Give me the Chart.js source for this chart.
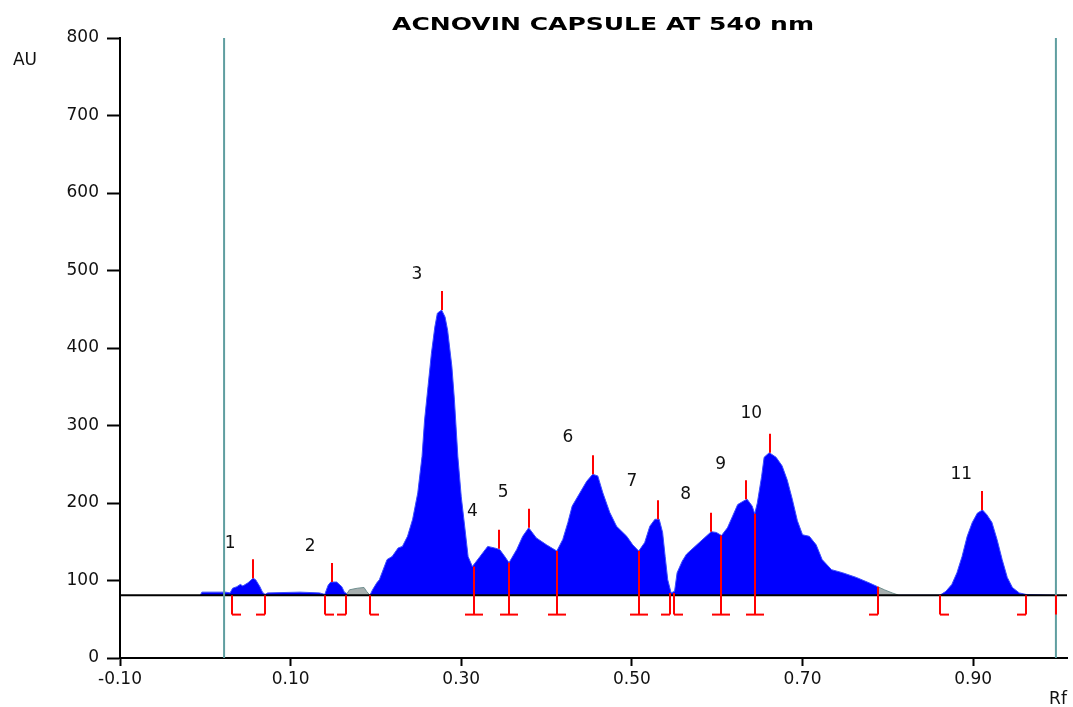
<!DOCTYPE html>
<html>
<head>
<meta charset="utf-8">
<script src="https://cdn.jsdelivr.net/npm/chart.js@4"></script>
<style>
  html, body { margin: 0; padding: 0; background: #fff; }
  canvas { display: block; }
</style>
</head>
<body>
<canvas id="chart" width="1073" height="707"></canvas>
<script>
// densitogram trace (Rf vs AU)
var rf = [-0.006, -0.004, 0.024, 0.029, 0.032, 0.037, 0.041, 0.044, 0.050, 0.056, 0.059, 0.064, 0.067, 0.070, 0.073,
  0.111, 0.134, 0.140, 0.144, 0.147, 0.154, 0.160, 0.163, 0.166, 0.169, 0.178, 0.186, 0.189, 0.193, 0.196,
  0.201, 0.204, 0.213, 0.219, 0.226, 0.231, 0.237, 0.243, 0.249, 0.254, 0.257, 0.261, 0.265, 0.269, 0.272,
  0.277, 0.281, 0.284, 0.289, 0.292, 0.296, 0.300, 0.304, 0.308, 0.313, 0.322, 0.331, 0.339, 0.345, 0.351,
  0.356, 0.365, 0.372, 0.379, 0.388, 0.400, 0.412, 0.419, 0.425, 0.430, 0.439, 0.447, 0.454, 0.460, 0.466,
  0.474, 0.482, 0.494, 0.501, 0.508, 0.515, 0.521, 0.527, 0.532, 0.536, 0.539, 0.542, 0.546, 0.550, 0.553,
  0.559, 0.564, 0.579, 0.593, 0.599, 0.605, 0.612, 0.618, 0.624, 0.630, 0.635, 0.641, 0.644, 0.647, 0.652,
  0.655, 0.661, 0.669, 0.676, 0.682, 0.688, 0.694, 0.700, 0.708, 0.716, 0.723, 0.734, 0.747, 0.763, 0.778,
  0.788, 0.796, 0.805, 0.813, 0.861, 0.868, 0.875, 0.881, 0.887, 0.893, 0.899, 0.905, 0.911, 0.916, 0.922,
  0.928, 0.934, 0.940, 0.946, 0.954, 0.962, 0.997];
var au = [81, 85, 85, 84, 90, 92, 95, 93, 97, 103, 101, 92, 85, 82, 84,
  85, 84, 82, 94, 98, 98, 92, 85, 83, 88, 90, 91, 86, 81, 88,
  97, 101, 127, 131, 142, 144, 157, 179, 213, 260, 307, 350, 393, 427, 445,
  449, 440, 423, 376, 333, 260, 208, 170, 131, 118, 131, 144, 142, 140, 131,
  123, 140, 157, 168, 155, 146, 138, 153, 175, 196, 213, 228, 237, 235, 213,
  188, 170, 157, 146, 138, 149, 170, 179, 179, 162, 131, 101, 84, 86, 110,
  125, 134, 149, 163, 162, 158, 168, 183, 198, 202, 205, 196, 186, 200, 234,
  259, 265, 259, 248, 230, 205, 177, 159, 157, 146, 127, 114, 110, 104, 97,
  92, 88, 84, 81, 81, 86, 95, 110, 131, 157, 175, 187, 191, 185, 175,
  153, 127, 104, 91, 84, 82, 81];
var baselineAU = 81;
var footAU = 56;
var xTicks = [-0.10, 0.10, 0.30, 0.50, 0.70, 0.90];
var trackRf = [0.022, 0.997];
var greyRanges = [[0.165, 0.193], [0.788, 0.813]];

// peaks
var peakNames = ['1', '2', '3', '4', '5', '6', '7', '8', '9', '10', '11'];
var peakRf = [0.056, 0.148, 0.278, 0.344, 0.379, 0.454, 0.531, 0.593, 0.634, 0.662, 0.910];
var peakAU = [103, 98, 449, 141, 168, 237, 179, 163, 205, 265, 191];
var labelRf = [0.029, 0.123, 0.248, 0.313, 0.349, 0.425, 0.500, 0.563, 0.604, 0.640, 0.886];
var labelAU = [147, 144, 495, 189, 214, 285, 227, 211, 250, 315, 237];

// integration boundaries: L = start, R = end, T = between peaks, I = plain
var boundRf = [0.031, 0.070, 0.140, 0.165, 0.193, 0.315, 0.356, 0.412, 0.508, 0.545, 0.549, 0.605, 0.644, 0.788, 0.861, 0.962, 0.997];
var boundAU = [81, 81, 81, 81, 81, 118, 123, 138, 138, 84, 84, 158, 186, 92, 81, 81, 81];
var boundKind = ['L', 'R', 'L', 'R', 'L', 'T', 'T', 'T', 'T', 'R', 'L', 'T', 'T', 'R', 'L', 'R', 'I'];

var FONT = '"DejaVu Sans", Verdana, sans-serif';

function pts(xs, ys) {
    return xs.map(function(v, i) { return { x: v, y: ys[i] }; });
}

function inGrey(x) {
    return greyRanges.some(function(r) { return x >= r[0] && x < r[1]; });
}

var marks = {
    id: 'marks',
    afterDatasetsDraw: function(chart) {
        var ctx = chart.ctx;
        var sx = chart.scales.x;
        var sy = chart.scales.y;
        var footY = sy.getPixelForValue(footAU);

        function seg(x1, y1, x2, y2) {
            ctx.beginPath();
            ctx.moveTo(x1, y1);
            ctx.lineTo(x2, y2);
            ctx.stroke();
        }

        ctx.save();
        ctx.strokeStyle = '#ff0000';
        ctx.lineWidth = 2;

        peakRf.forEach(function(v, i) {
            var px = Math.round(sx.getPixelForValue(v));
            var py = sy.getPixelForValue(peakAU[i]);
            seg(px, py, px, py - 19);
        });

        boundRf.forEach(function(v, i) {
            var px = Math.round(sx.getPixelForValue(v));
            var top = sy.getPixelForValue(boundAU[i]);
            var k = boundKind[i];
            seg(px, top, px, footY);
            if (k === 'L' || k === 'T') seg(px, footY, px + 9, footY);
            if (k === 'R' || k === 'T') seg(px - 9, footY, px, footY);
        });

        ctx.fillStyle = '#111';
        ctx.font = '17px ' + FONT;
        ctx.textAlign = 'center';
        ctx.textBaseline = 'middle';
        peakNames.forEach(function(n, i) {
            ctx.fillText(n, sx.getPixelForValue(labelRf[i]), sy.getPixelForValue(labelAU[i]));
        });
        ctx.restore();
    },
    afterDraw: function(chart) {
        var ctx = chart.ctx;
        var title = 'ACNOVIN CAPSULE AT 540 nm';
        ctx.save();
        ctx.fillStyle = '#000';
        ctx.font = 'bold 18px ' + FONT;
        ctx.textBaseline = 'middle';
        ctx.textAlign = 'center';
        var w = ctx.measureText(title).width;
        var k = 422 / w;
        ctx.translate(603, 25);
        ctx.scale(k, 1);
        ctx.fillText(title, 0, 0);
        ctx.restore();

        ctx.save();
        ctx.fillStyle = '#111';
        ctx.font = '17px ' + FONT;
        ctx.textAlign = 'center';
        ctx.textBaseline = 'middle';
        ctx.fillText('AU', 25, 61);
        ctx.fillText('Rf', 1058, 700);
        ctx.restore();
    }
};

new Chart(document.getElementById('chart').getContext('2d'), {
    type: 'line',
    data: {
        datasets: [
            {
                label: 'tracks',
                data: [{ x: trackRf[0], y: 0 }, { x: trackRf[0], y: 800 }, { x: NaN, y: NaN },
                       { x: trackRf[1], y: 0 }, { x: trackRf[1], y: 800 }],
                borderColor: '#5f9ea0',
                borderWidth: 2,
                pointRadius: 0,
                fill: false,
                spanGaps: false,
                order: 0
            },
            {
                label: 'baseline',
                data: [{ x: -0.10, y: baselineAU }, { x: 1.01, y: baselineAU }],
                borderColor: '#000',
                borderWidth: 2,
                pointRadius: 0,
                fill: false,
                order: 1
            },
            {
                label: 'AU',
                data: pts(rf, au),
                borderColor: '#3a4cff',
                borderWidth: 1,
                backgroundColor: '#0000ff',
                pointRadius: 0,
                tension: 0,
                fill: { value: baselineAU },
                segment: {
                    backgroundColor: function(c) { return inGrey(c.p0.parsed.x) ? '#a6aeae' : undefined; },
                    borderColor: function(c) { return inGrey(c.p0.parsed.x) ? '#6f8f8f' : undefined; }
                },
                order: 2
            }
        ]
    },
    options: {
        responsive: false,
        animation: false,
        devicePixelRatio: 1,
        layout: { padding: { top: 38, right: 6, left: 0, bottom: 0 } },
        plugins: {
            legend: { display: false },
            tooltip: { enabled: false },
            title: { display: false }
        },
        scales: {
            x: {
                type: 'linear',
                min: -0.10,
                max: 1.01,
                afterBuildTicks: function(scale) {
                    scale.ticks = xTicks.map(function(v) { return { value: v }; });
                },
                afterFit: function(scale) { scale.height = 49; },
                grid: { drawOnChartArea: false, drawTicks: true, tickLength: 8, tickColor: '#000', tickWidth: 2 },
                border: { display: true, color: '#000', width: 2 },
                ticks: {
                    autoSkip: false,
                    maxRotation: 0,
                    padding: 3,
                    color: '#111',
                    font: { family: FONT, size: 17 },
                    callback: function(v) { return Number(v).toFixed(2); }
                }
            },
            y: {
                min: 0,
                max: 800,
                afterFit: function(scale) { scale.width = 120; },
                grid: { drawOnChartArea: false, drawTicks: true, tickLength: 13, tickColor: '#000', tickWidth: 2 },
                border: { display: true, color: '#000', width: 2 },
                ticks: {
                    stepSize: 100,
                    padding: 8,
                    color: '#111',
                    font: { family: FONT, size: 17 }
                }
            }
        }
    },
    plugins: [marks]
});
</script>
</body>
</html>
